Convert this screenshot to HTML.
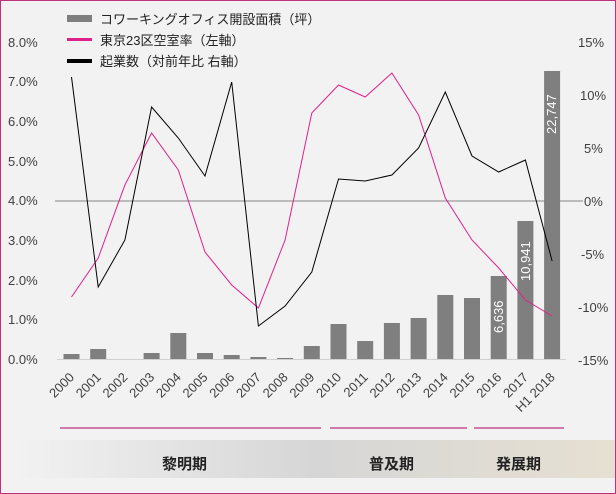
<!DOCTYPE html>
<html><head><meta charset="utf-8"><style>
body{margin:0;background:#f2f2f2;}
svg{display:block;font-family:"Liberation Sans","Noto Sans CJK JP",sans-serif;}
</style></head><body>
<svg width="616" height="494" viewBox="0 0 616 494" xmlns="http://www.w3.org/2000/svg">
<defs><linearGradient id="g" x1="0" x2="1" y1="0" y2="0">
<stop offset="0" stop-color="#f2f2f2"/><stop offset="0.5" stop-color="#d6d6d6"/><stop offset="1" stop-color="#e6e0d2"/></linearGradient></defs>
<rect x="0.5" y="0.5" width="615" height="493" fill="#f2f2f2" stroke="#c0307f"/>
<rect x="14" y="440" width="601" height="38" fill="url(#g)"/>
<g font-size="13" fill="#404040">
<text x="8" y="47">8.0%</text><text x="8" y="86">7.0%</text><text x="8" y="126">6.0%</text><text x="8" y="166">5.0%</text><text x="8" y="205">4.0%</text><text x="8" y="245">3.0%</text><text x="8" y="285">2.0%</text><text x="8" y="324">1.0%</text><text x="8" y="364">0.0%</text>
<text x="578" y="47">15%</text><text x="580" y="100">10%</text><text x="584" y="153">5%</text><text x="584" y="206">0%</text><text x="581" y="259">-5%</text><text x="578" y="312">-10%</text><text x="578" y="365">-15%</text>
</g>
<line x1="55" y1="201" x2="583" y2="201" stroke="#606060" stroke-width="0.8"/>
<line x1="57" y1="359.5" x2="566" y2="359.5" stroke="#d0d0d0"/>
<g fill="#7f7f7f">
<rect x="63.5" y="354" width="16" height="5"/><rect x="90.2" y="349" width="16" height="10"/><rect x="143.6" y="353" width="16" height="6"/><rect x="170.3" y="333" width="16" height="26"/><rect x="197" y="353" width="16" height="6"/><rect x="223.7" y="355" width="16" height="4"/><rect x="250.4" y="357" width="16" height="2"/><rect x="277.1" y="358" width="16" height="1"/><rect x="303.8" y="346" width="16" height="13"/><rect x="330.5" y="324" width="16" height="35"/><rect x="357.2" y="341" width="16" height="18"/><rect x="383.9" y="323" width="16" height="36"/><rect x="410.6" y="318" width="16" height="41"/><rect x="437.3" y="295" width="16" height="64"/><rect x="464" y="298" width="16" height="61"/><rect x="490.7" y="276" width="16" height="83"/><rect x="517.4" y="221" width="16" height="138"/><rect x="544.1" y="71" width="16" height="288"/>
</g>
<g fill="#fff" font-size="13">
<text transform="translate(503,333) rotate(-90)">6,636</text>
<text transform="translate(530,281) rotate(-90)">10,941</text>
<text transform="translate(556,134) rotate(-90)">22,747</text>
</g>
<polyline fill="none" stroke="#e0208a" stroke-width="1" points="71.5,297 98.2,258 124.9,185 151.6,133 178.3,170 205,252 231.7,285 258.4,308 285.1,240 311.8,113 338.5,85 365.2,97 391.9,73 418.6,115 445.3,198 472,240 498.7,268 525.4,300 552.1,316"/>
<polyline fill="none" stroke="#000" stroke-width="1" points="71.5,77 98.2,287 124.9,240 151.6,107 178.3,138 205,176 231.7,82 258.4,326 285.1,306 311.8,272 338.5,179 365.2,181 391.9,175 418.6,148 445.3,92 472,156 498.7,172 525.4,160 552.1,261"/>
<g font-size="13" fill="#404040">
<text transform="translate(75,378) rotate(-45)" text-anchor="end">2000</text>
<text transform="translate(101.7,378) rotate(-45)" text-anchor="end">2001</text>
<text transform="translate(128.4,378) rotate(-45)" text-anchor="end">2002</text>
<text transform="translate(155.1,378) rotate(-45)" text-anchor="end">2003</text>
<text transform="translate(181.8,378) rotate(-45)" text-anchor="end">2004</text>
<text transform="translate(208.5,378) rotate(-45)" text-anchor="end">2005</text>
<text transform="translate(235.2,378) rotate(-45)" text-anchor="end">2006</text>
<text transform="translate(261.9,378) rotate(-45)" text-anchor="end">2007</text>
<text transform="translate(288.6,378) rotate(-45)" text-anchor="end">2008</text>
<text transform="translate(315.3,378) rotate(-45)" text-anchor="end">2009</text>
<text transform="translate(342,378) rotate(-45)" text-anchor="end">2010</text>
<text transform="translate(368.7,378) rotate(-45)" text-anchor="end">2011</text>
<text transform="translate(395.4,378) rotate(-45)" text-anchor="end">2012</text>
<text transform="translate(422.1,378) rotate(-45)" text-anchor="end">2013</text>
<text transform="translate(448.8,378) rotate(-45)" text-anchor="end">2014</text>
<text transform="translate(475.5,378) rotate(-45)" text-anchor="end">2015</text>
<text transform="translate(502.2,378) rotate(-45)" text-anchor="end">2016</text>
<text transform="translate(528.9,378) rotate(-45)" text-anchor="end">2017</text>
<text transform="translate(555.6,378) rotate(-45)" text-anchor="end">H1 2018</text>
</g>
<g stroke="#c0307f" stroke-width="1.2">
<line x1="60" y1="428" x2="321" y2="428"/><line x1="330" y1="428" x2="467" y2="428"/><line x1="474" y1="428" x2="564" y2="428"/>
</g>
<g font-size="15" font-weight="bold" fill="#222">
<text x="162" y="469">黎明期</text><text x="369" y="469">普及期</text><text x="496" y="469">発展期</text>
</g>
<rect x="67" y="15" width="25" height="7" fill="#7f7f7f"/>
<rect x="67" y="38" width="25" height="3" fill="#e0208a"/>
<rect x="67" y="59" width="25" height="4" fill="#000"/>
<g font-size="13" fill="#222">
<text x="100" y="24">コワーキングオフィス開設面積（坪）</text>
<text x="100" y="45">東京23区空室率（左軸）</text>
<text x="100" y="66">起業数（対前年比 右軸）</text>
</g>
</svg>
</body></html>
